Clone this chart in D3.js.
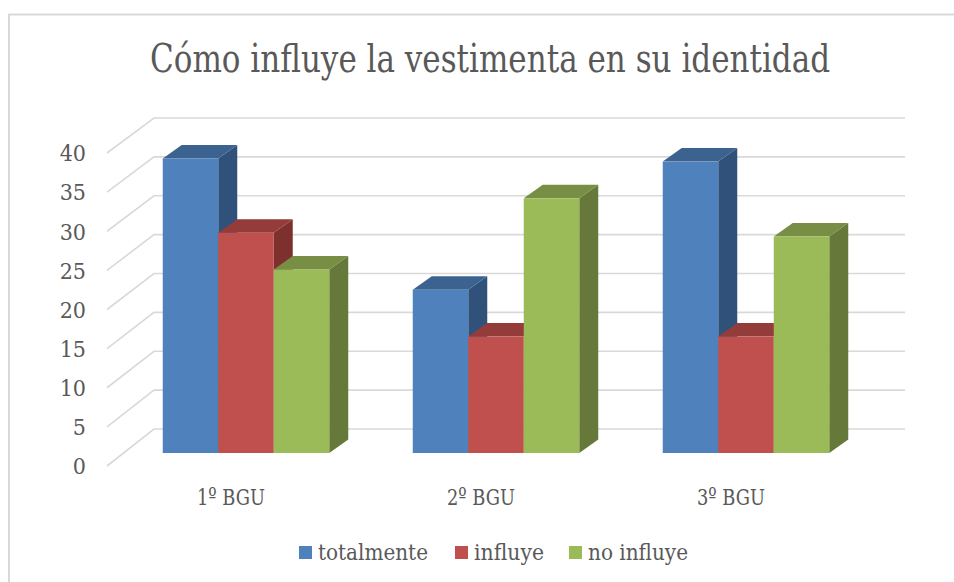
<!DOCTYPE html>
<html><head><meta charset="utf-8">
<script src="https://cdn.jsdelivr.net/npm/d3@7/dist/d3.min.js"></script>
<style>body{margin:0;background:#fff}svg{display:block}</style>
</head><body><svg id="c" width="954" height="582"></svg>
<script>
const categories = ["1º BGU", "2º BGU", "3º BGU"];
const seriesNames = ["totalmente", "influye", "no influye"];
const totalmente = [37.7, 20.9, 37.3];
const influye = [28.2, 14.9, 14.9];
const noInfluye = [23.5, 32.6, 27.7];
const yTicks = [0, 5, 10, 15, 20, 25, 30, 35, 40];
const title = "Cómo influye la vestimenta en su identidad";

const seriesValues = [totalmente, influye, noInfluye];
const colors = {
  front: ["#4f81bd", "#c0504d", "#9bbb59"],
  top:   ["#3c6390", "#933c3a", "#778e44"],
  side:  ["#30527a", "#7e302e", "#66793a"]
};

const svg = d3.select("#c");
const font = "DejaVu Serif Condensed, DejaVu Serif, serif";
const textColor = "#595959";

// chart border
svg.append("path").attr("d", "M9,582 V14.5 H954").attr("fill", "none")
  .attr("stroke", "#d9d9d9").attr("stroke-width", 2);

// title
svg.append("text").text(title).attr("x", 150).attr("y", 72)
  .attr("font-family", font).attr("font-size", 39).attr("fill", textColor)
  .attr("textLength", 680).attr("lengthAdjust", "spacingAndGlyphs");

// scales: front plane of axis, back wall, and bar plane
const yFront = d3.scaleLinear().domain([0, 40]).range([466, 153]);
const yBack = d3.scaleLinear().domain([0, 40]).range([429, 118]);
const yBar = d3.scaleLinear().domain([0, 40]).range([453, 140.5]);
const xFrontLeft = 107, xBackLeft = 154, xBackRight = 905;

// gridlines
const grid = svg.append("g").attr("stroke", "#d9d9d9").attr("stroke-width", 1.6).attr("fill", "none");
yTicks.forEach(t => {
  grid.append("path").attr("d",
    `M${xFrontLeft},${yFront(t)} L${xBackLeft},${yBack(t)} H${xBackRight}`);
});

// y tick labels
svg.append("g").selectAll("text").data(yTicks).join("text")
  .attr("x", 86).attr("y", d => yFront(d)).attr("dy", "0.36em")
  .attr("text-anchor", "end").attr("font-family", font).attr("font-size", 23)
  .attr("fill", textColor).text(d => d);

// bars
const x0 = d3.scaleBand().domain(categories).range([121, 871])
  .paddingInner(0.334).paddingOuter(0.167);
const x1 = d3.scaleBand().domain(seriesNames).range([0, x0.bandwidth()]);
const dx = 19, dy = -13.5;

const bars = svg.append("g");
categories.forEach((cat, ci) => {
  seriesNames.forEach((s, si) => {
    const v = seriesValues[si][ci];
    const xl = x0(cat) + x1(s), xr = xl + x1.bandwidth();
    const yt = yBar(v), yb = yBar(0);
    const g = bars.append("g");
    g.append("path").attr("d",
      `M${xr},${yt} L${xr + dx},${yt + dy} L${xr + dx},${yb + dy} L${xr},${yb} Z`)
      .attr("fill", colors.side[si]);
    g.append("path").attr("d",
      `M${xl},${yt} L${xl + dx},${yt + dy} L${xr + dx},${yt + dy} L${xr},${yt} Z`)
      .attr("fill", colors.top[si]);
    g.append("rect").attr("x", xl).attr("y", yt).attr("width", xr - xl).attr("height", yb - yt)
      .attr("fill", colors.front[si]);
  });
});

// category labels
svg.append("g").selectAll("text").data(categories).join("text")
  .attr("x", d => x0(d) + x0.bandwidth() / 2 - 15).attr("y", 505)
  .attr("text-anchor", "middle").attr("font-family", font).attr("font-size", 23)
  .attr("fill", textColor).attr("textLength", 68).attr("lengthAdjust", "spacingAndGlyphs")
  .text(d => d);

// legend
const legendX = [299, 455, 569];
const legendW = [110, 70, 100];
const lg = svg.append("g");
seriesNames.forEach((s, i) => {
  lg.append("rect").attr("x", legendX[i]).attr("y", 546).attr("width", 13).attr("height", 13)
    .attr("fill", colors.front[i]);
  lg.append("text").attr("x", legendX[i] + 19).attr("y", 560)
    .attr("font-family", font).attr("font-size", 22).attr("fill", textColor)
    .attr("textLength", legendW[i]).attr("lengthAdjust", "spacingAndGlyphs").text(s);
});
</script></body></html>
